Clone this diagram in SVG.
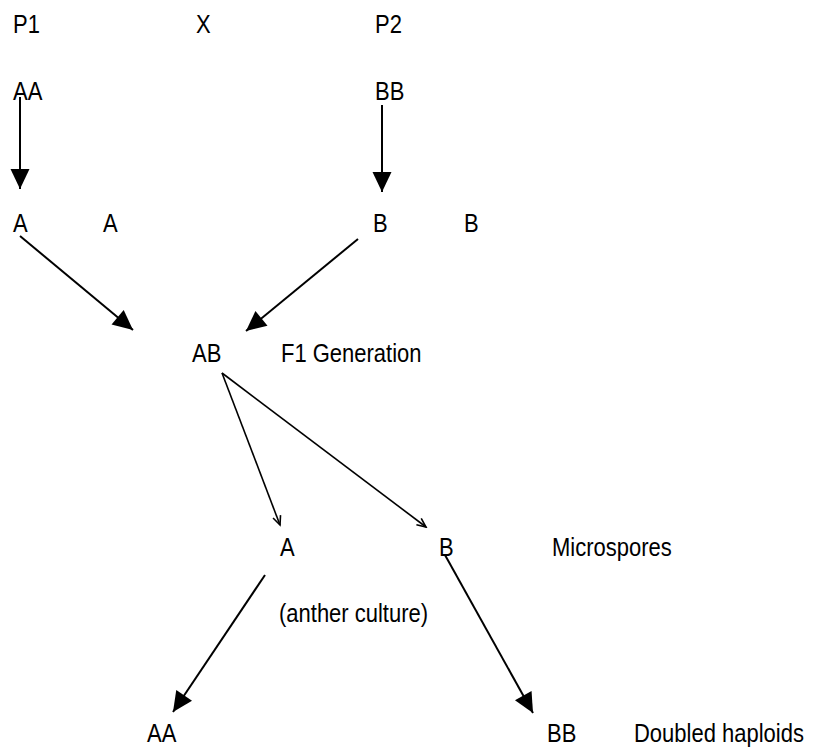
<svg xmlns="http://www.w3.org/2000/svg" width="816" height="752" viewBox="0 0 816 752">
<style>
text{font-family:"Liberation Sans",Arial,sans-serif;font-size:22px;fill:#000}
.thick{stroke:#000;stroke-width:2;fill:none}
.thin{stroke:#000;stroke-width:1.6;fill:none}
</style>
<defs>
<marker id="big" markerUnits="userSpaceOnUse" viewBox="-22 -11 24 22" refX="0" refY="0" markerWidth="24" markerHeight="22" orient="auto">
<path d="M0,0 L-20,-9.5 L-20,9.5 Z" fill="#000"/>
</marker>
<marker id="small" markerUnits="userSpaceOnUse" viewBox="-12 -7 14 14" refX="0" refY="0" markerWidth="14" markerHeight="14" orient="auto">
<path d="M-9,-4 L0,0 L-9,4" fill="none" stroke="#000" stroke-width="1.6"/>
</marker>
</defs>
<rect width="816" height="752" fill="#fff"/>
<g id="p1"><text transform="translate(13,33) scale(1,1.15)">P1</text></g>
<g id="cross"><text transform="translate(196,33) scale(1,1.15)">X</text></g>
<g id="p2"><text transform="translate(375,33) scale(1,1.15)">P2</text></g>
<g id="aa-parent"><text transform="translate(13,100) scale(1,1.15)">AA</text></g>
<g id="bb-parent"><text transform="translate(375,100) scale(1,1.15)">BB</text></g>
<g id="gamete-a1"><text transform="translate(13,232) scale(1,1.15)">A</text></g>
<g id="gamete-a2"><text transform="translate(103,232) scale(1,1.15)">A</text></g>
<g id="gamete-b1"><text transform="translate(373,232) scale(1,1.15)">B</text></g>
<g id="gamete-b2"><text transform="translate(464,232) scale(1,1.15)">B</text></g>
<g id="f1"><text transform="translate(192,362) scale(1,1.15)">AB</text><text transform="translate(281,362) scale(1,1.15)">F1 Generation</text></g>
<g id="micro-a"><text transform="translate(280,556) scale(1,1.15)">A</text></g>
<g id="micro-b"><text transform="translate(439,556) scale(1,1.15)">B</text></g>
<g id="micro-label"><text transform="translate(552,556) scale(1,1.15)">Microspores</text></g>
<g id="anther"><text transform="translate(279,622) scale(1,1.15)">(anther culture)</text></g>
<g id="dh-aa"><text transform="translate(147,742) scale(1,1.15)">AA</text></g>
<g id="dh-bb"><text transform="translate(547,742) scale(1,1.15)">BB</text><text transform="translate(634,742) scale(1,1.15)">Doubled haploids</text></g>
<g id="connectors">
<line class="thick" x1="20" y1="97" x2="20" y2="189" marker-end="url(#big)"/>
<line class="thick" x1="382" y1="105" x2="382" y2="192" marker-end="url(#big)"/>
<line class="thick" x1="20" y1="236" x2="133" y2="330" marker-end="url(#big)"/>
<line class="thick" x1="358" y1="239" x2="246" y2="331" marker-end="url(#big)"/>
<line class="thin" x1="222" y1="373" x2="280" y2="525" marker-end="url(#small)"/>
<line class="thin" x1="222" y1="373" x2="426" y2="527" marker-end="url(#small)"/>
<line class="thick" x1="265" y1="575" x2="173" y2="712" marker-end="url(#big)"/>
<line class="thick" x1="445" y1="555" x2="533" y2="713" marker-end="url(#big)"/>
</g>
</svg>
